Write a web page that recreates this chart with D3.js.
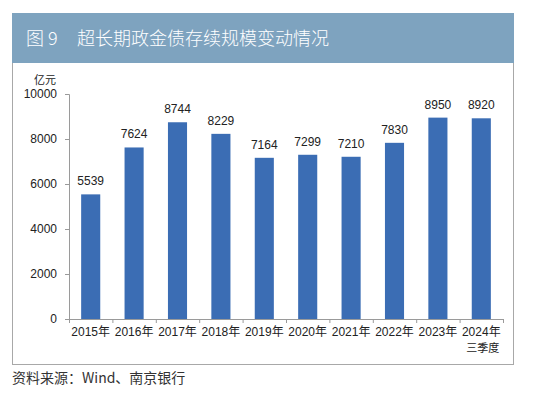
<!DOCTYPE html>
<html>
<head>
<meta charset="utf-8">
<script src="https://cdn.jsdelivr.net/npm/d3@7"></script>
<style>
  body { margin: 0; background: #fff; }
  text { font-family: "Liberation Sans", "Noto Sans CJK SC", sans-serif; }
</style>
</head>
<body>
<figure id="bar" style="margin:0"></figure>
<script>
const years = ["2015年", "2016年", "2017年", "2018年", "2019年", "2020年", "2021年", "2022年", "2023年", "2024年"];
const yearSub = ["", "", "", "", "", "", "", "", "", "三季度"];
const values = [5539, 7624, 8744, 8229, 7164, 7299, 7210, 7830, 8950, 8920];
const yTicks = [0, 2000, 4000, 6000, 8000, 10000];

const W = 550, H = 397;
const svg = d3.select("figure#bar").append("svg")
  .attr("width", W).attr("height", H);

// frame + header band
svg.append("rect").attr("x", 12.5).attr("y", 13.5).attr("width", 501).attr("height", 351)
  .attr("fill", "#fff").attr("stroke", "#a8a8a8");
svg.append("rect").attr("x", 12).attr("y", 13).attr("width", 502).attr("height", 50)
  .attr("fill", "#7ea3bf");
svg.append("text").attr("x", 26).attr("y", 45).attr("fill", "#fff")
  .style("font-size", "18px").style("font-family", "'Noto Sans CJK SC', sans-serif")
  .style("font-weight", 300)
  .text("图 9");
svg.append("text").attr("x", 77).attr("y", 45).attr("fill", "#fff")
  .style("font-size", "18px").style("font-family", "'Noto Sans CJK SC', sans-serif")
  .style("font-weight", 300)
  .text("超长期政金债存续规模变动情况");

const plotL = 69, plotR = 503, plotT = 94, plotB = 319;

const x = d3.scaleBand().domain(years).range([plotL, plotR]).paddingInner(0.56).paddingOuter(0.28);
const y = d3.scaleLinear().domain([0, 10000]).range([plotB, plotT]);

// y axis
const yAxis = svg.append("g").attr("transform", `translate(${plotL},0)`)
  .call(d3.axisLeft(y).tickValues(yTicks).tickFormat(d3.format("d")).tickSize(4).tickPadding(8));
yAxis.select(".domain").attr("stroke", "#9a9a9a");
yAxis.selectAll(".tick line").attr("stroke", "#9a9a9a");
yAxis.selectAll("text").style("font-size", "12px").attr("fill", "#222");

svg.append("text").attr("x", 45).attr("y", 84).attr("text-anchor", "middle")
  .style("font-size", "11px").style("font-family", "'Noto Sans CJK SC', sans-serif")
  .attr("fill", "#222").text("亿元");

// bars
svg.selectAll("rect.bar").data(values).enter().append("rect")
  .attr("class", "bar")
  .attr("x", (d, i) => x(years[i]))
  .attr("y", d => y(d))
  .attr("width", x.bandwidth())
  .attr("height", d => plotB - y(d))
  .attr("fill", "#3b6db4");

svg.selectAll("text.val").data(values).enter().append("text")
  .attr("class", "val")
  .attr("x", (d, i) => x(years[i]) + x.bandwidth() / 2)
  .attr("y", d => y(d) - 9)
  .attr("text-anchor", "middle")
  .style("font-size", "12px").attr("fill", "#222")
  .text(d => d);

// x axis: ticks at band boundaries
const step = (plotR - plotL) / years.length;
const xb = svg.append("g");
xb.append("line").attr("x1", plotL).attr("x2", plotR).attr("y1", plotB + 0.5).attr("y2", plotB + 0.5)
  .attr("stroke", "#9a9a9a");
xb.selectAll("line.tk").data(d3.range(years.length + 1)).enter().append("line")
  .attr("class", "tk")
  .attr("x1", i => plotL + i * step + 0.5).attr("x2", i => plotL + i * step + 0.5)
  .attr("y1", plotB).attr("y2", plotB + 4).attr("stroke", "#9a9a9a");

xb.selectAll("text.yr").data(years).enter().append("text")
  .attr("class", "yr")
  .attr("x", d => x(d) + x.bandwidth() / 2)
  .attr("y", plotB + 17)
  .attr("text-anchor", "middle")
  .style("font-size", "12px").attr("fill", "#222")
  .text(d => d);
xb.selectAll("text.sub").data(yearSub).enter().append("text")
  .attr("class", "sub")
  .attr("x", (d, i) => x(years[i]) + x.bandwidth() / 2 + 18)
  .attr("y", plotB + 33)
  .attr("text-anchor", "end")
  .style("font-size", "11px").style("font-family", "'Noto Sans CJK SC', sans-serif")
  .attr("fill", "#222")
  .text(d => d);

// source
svg.append("text").attr("x", 12).attr("y", 383)
  .style("font-size", "14px").style("font-family", "'Noto Sans CJK SC', sans-serif")
  .attr("fill", "#333").text("资料来源：Wind、南京银行");
</script>
</body>
</html>
